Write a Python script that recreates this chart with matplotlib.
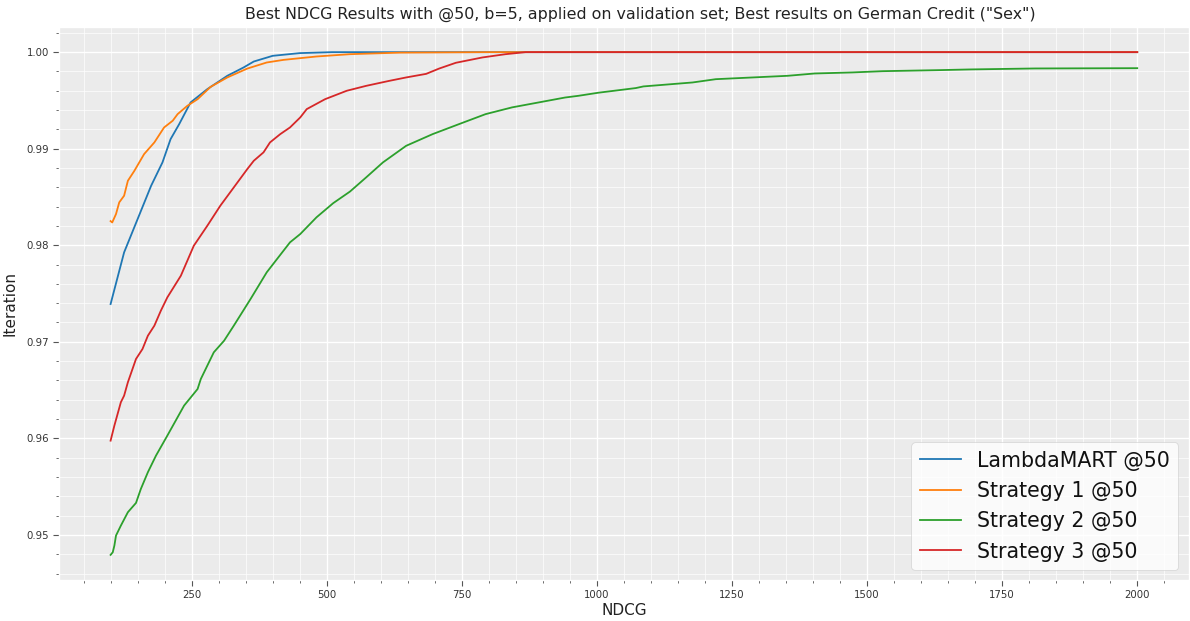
import matplotlib
matplotlib.use("Agg")
import matplotlib.pyplot as plt
from matplotlib.ticker import MultipleLocator

# Valores
lambdamart_x = [100, 125, 150, 175, 196, 211, 227, 248, 279, 316, 346, 365, 400, 450, 510, 600, 2000]
lambdamart_y = [0.97391, 0.97926, 0.98271, 0.98616, 0.98858, 0.99099, 0.99255, 0.99479, 0.99617,
                0.99755, 0.99841, 0.99903, 0.99962, 0.99990, 1.0, 1.0, 1.0]

strat1_x = [100, 103, 110, 116, 125, 132, 144, 162, 181, 199, 215, 224, 242, 261, 285, 316, 353,
            389, 420, 481, 543, 635, 800, 2000]
strat1_y = [0.98250, 0.98236, 0.98323, 0.98444, 0.98513, 0.98668, 0.98771, 0.98944, 0.99065,
            0.99220, 0.99290, 0.99358, 0.99444, 0.99513, 0.99640, 0.99738, 0.99830, 0.99893,
            0.99920, 0.99955, 0.99979, 0.99995, 1.0, 1.0]

strat2_x = [100, 104, 107, 110, 119, 132, 147, 156, 169, 184, 205, 236, 261, 267, 291, 310, 328,
            359, 389, 408, 432, 451, 481, 512, 543, 573, 604, 647, 696, 745, 794, 843, 892, 941,
            966, 1003, 1072, 1086, 1177, 1220, 1353, 1403, 1473, 1529, 1635, 1691, 1811, 2000]
strat2_y = [0.94793, 0.94820, 0.94889, 0.94993, 0.95096, 0.95235, 0.95331, 0.95476, 0.95649,
            0.95821, 0.96028, 0.96339, 0.96511, 0.96615, 0.96891, 0.97011, 0.97167, 0.97443,
            0.97720, 0.97857, 0.98030, 0.98116, 0.98289, 0.98436, 0.98556, 0.98703, 0.98858,
            0.99030, 0.99151, 0.99255, 0.99358, 0.99428, 0.99479, 0.99530, 0.99548, 0.99580,
            0.99628, 0.99645, 0.99686, 0.99720, 0.99755, 0.99779, 0.99790, 0.99803, 0.99814,
            0.99821, 0.99831, 0.99834]

strat3_x = [100, 107, 119, 125, 132, 147, 159, 169, 181, 193, 205, 230, 254, 279, 303, 328, 353,
            365, 383, 395, 414, 432, 451, 463, 497, 537, 573, 616, 647, 684, 708, 739, 788, 831,
            868, 2000]
strat3_y = [0.95976, 0.96132, 0.96374, 0.96442, 0.96581, 0.96822, 0.96925, 0.97063, 0.97167,
            0.97322, 0.97460, 0.97684, 0.97995, 0.98202, 0.98409, 0.98599, 0.98789, 0.98875,
            0.98962, 0.99065, 0.99151, 0.99220, 0.99324, 0.99410, 0.99513, 0.99600, 0.99651,
            0.99703, 0.99738, 0.99775, 0.99830, 0.99890, 0.99945, 0.99979, 1.0, 1.0]

plt.style.use("ggplot")

fig = plt.figure(figsize=(11.9, 6.21), dpi=100)
ax = fig.add_axes([0.0498, 0.066, 0.949, 0.8905])
ax.set_facecolor("#EBEBEB")

ax.plot(lambdamart_x, lambdamart_y, c="#1f77b4", lw=1.3, label="LambdaMART @50")
ax.plot(strat1_x, strat1_y, c="#ff7f0e", lw=1.3, label="Strategy 1 @50")
ax.plot(strat2_x, strat2_y, c="#2ca02c", lw=1.3, label="Strategy 2 @50")
ax.plot(strat3_x, strat3_y, c="#d62728", lw=1.3, label="Strategy 3 @50")

# Ejes y rejilla
ax.xaxis.set_major_locator(MultipleLocator(250))
ax.xaxis.set_minor_locator(MultipleLocator(50))
ax.yaxis.set_major_locator(MultipleLocator(0.01))
ax.yaxis.set_minor_locator(MultipleLocator(0.002))
ax.grid(which="major", color="white", linewidth=1.0)
ax.grid(which="minor", color="white", linewidth=0.6, alpha=0.8)
ax.tick_params(which="major", labelsize=7.3, colors="#555555", length=4)
ax.tick_params(which="minor", colors="#555555", length=2)
ax.tick_params(labelcolor="#333333")

ax.set_title('Best NDCG Results with @50, b=5, applied on validation set; Best results on German Credit ("Sex")',
             fontsize=11.4, color="#222222", x=0.5146)
ax.set_xlabel("NDCG", fontsize=11, color="#222222", labelpad=2)
ax.set_ylabel("Iteration", fontsize=11, color="#222222", labelpad=6)

leg = ax.legend(loc="lower right", fontsize=14.8, facecolor="white", framealpha=0.8,
                edgecolor="#CCCCCC")
for t in leg.get_texts():
    t.set_color("#111111")

fig.savefig("out.png", dpi=100)
